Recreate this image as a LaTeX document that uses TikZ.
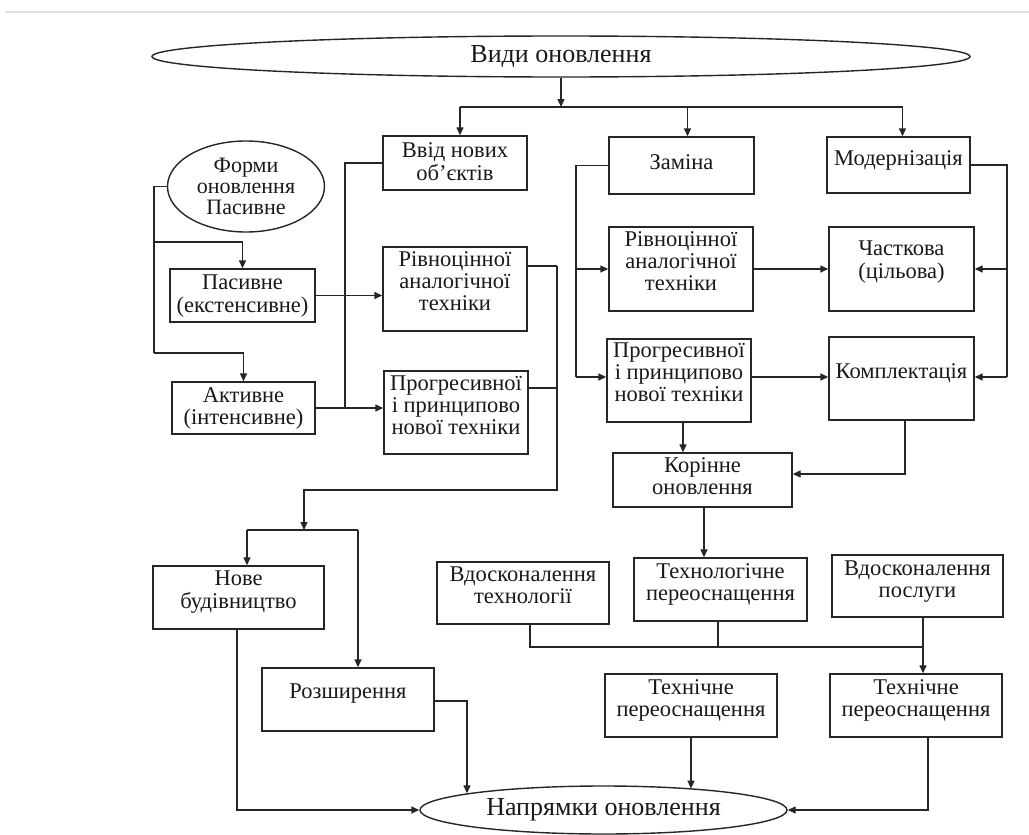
\documentclass[tikz,border=0pt]{standalone}
\usepackage{fontspec}
\setmainfont{Liberation Serif}
\usetikzlibrary{arrows.meta,shapes.geometric}
\newcommand\boxtxt[2][3]{\raisebox{#1pt}[\height][\depth]{\begin{tabular}{@{}c@{}}#2\end{tabular}}}
\begin{document}
\begin{tikzpicture}[x=1pt,y=-1pt,
  ln/.style={line width=1.4pt, draw=black!85},
  arr/.style={ln,-{Triangle[length=8pt,width=7pt]}},
  box/.style={draw=black!85, line width=1.4pt, rectangle, align=center, inner sep=1pt,
    font=\fontsize{22.5}{22}\selectfont, text=black!90},
  oval/.style={draw=black!85, line width=1.4pt, ellipse, inner sep=0pt, align=center, text=black!90},
  big/.style={font=\fontsize{26}{28}\selectfont},
]
\useasboundingbox (0,0) rectangle (1029,835);
\fill[white] (0,0) rectangle (1029,835);
\draw[gray!25, line width=1.5pt] (5,12) -- (1029,12);

% nodes
\node[oval, big, minimum width=818, minimum height=41] (vidy) at (561,56.5) {Види оновлення};
\node[oval, minimum width=157, minimum height=91, font=\fontsize{22}{21}\selectfont] (formy) at (246,186.5) {Форми\\оновлення\\Пасивне};
\node[box, minimum width=144, minimum height=54] (vvid) at (455,163) {\boxtxt[-1.5]{Ввід нових\\об’єктів}};
\node[box, minimum width=145, minimum height=57] (zamina) at (681.5,165.5) {\boxtxt[0]{Заміна}};
\node[box, minimum width=143, minimum height=56] (modern) at (898.5,165) {\boxtxt[3.5]{Модернізація}};
\node[box, minimum width=145, minimum height=53] (pasyv) at (242.5,295.5) {\boxtxt[-1]{Пасивне\\(екстенсивне)}};
\node[box, minimum width=143, minimum height=52] (aktyv) at (243.5,408) {\boxtxt[-1]{Активне\\(інтенсивне)}};
\node[box, minimum width=144, minimum height=84] (rivn1) at (455,289) {\boxtxt[4.5]{Рівноцінної\\аналогічної\\техніки}};
\node[box, minimum width=144, minimum height=83] (progr1) at (456,412.5) {\boxtxt[4]{Прогресивної\\і принципово\\нової техніки}};
\node[box, minimum width=144, minimum height=84] (rivn2) at (681,269) {\boxtxt[4.5]{Рівноцінної\\аналогічної\\техніки}};
\node[box, minimum width=145, minimum height=84] (chastk) at (901.5,269) {\boxtxt[6.5]{Часткова\\(цільова)}};
\node[box, minimum width=144, minimum height=83] (progr2) at (679,380.5) {\boxtxt[5]{Прогресивної\\і принципово\\нової техніки}};
\node[box, minimum width=145, minimum height=83] (kompl) at (901.5,378.5) {\boxtxt[4]{Комплектація}};
\node[box, minimum width=179, minimum height=54] (korin) at (702.5,480) {\boxtxt[0.5]{Корінне\\оновлення}};
\node[box, minimum width=171, minimum height=63] (nove) at (238.5,597.5) {\boxtxt[5]{Нове\\будівництво}};
\node[box, minimum width=172, minimum height=63] (rozsh) at (348,699.5) {\boxtxt[5]{Розширення}};
\node[box, minimum width=172, minimum height=62] (vdtech) at (523,593) {\boxtxt[4.5]{Вдосконалення\\технології}};
\node[box, minimum width=173, minimum height=63] (techpere) at (720.5,589.5) {\boxtxt[4]{Технологічне\\переоснащення}};
\node[box, minimum width=171, minimum height=62] (vdposl) at (917.5,586) {\boxtxt[3.5]{Вдосконалення\\послуги}};
\node[box, minimum width=172, minimum height=63] (techn1) at (691,705.5) {\boxtxt[4]{Технічне\\переоснащення}};
\node[box, minimum width=172, minimum height=63] (techn2) at (916,705.5) {\boxtxt[4]{Технічне\\переоснащення}};
\node[oval, big, minimum width=367, minimum height=48] (napr) at (603.5,810) {Напрямки оновлення};

% top bus
\coordinate (busC) at (561,107);
\draw[arr] (vidy.south) -- (busC);
\draw[ln] ([xshift=5]vvid.north |- busC) -- ([xshift=4]modern.north |- busC);
\draw[arr] ([xshift=5]vvid.north |- busC) -- ([xshift=5]vvid.north);
\draw[arr] ([xshift=6]zamina.north |- busC) -- ([xshift=6]zamina.north);
\draw[arr] ([xshift=4]modern.north |- busC) -- ([xshift=4]modern.north);

% forms
\coordinate (fl) at (154,186.5);
\coordinate (f2) at (154,242);
\coordinate (f3) at (154,353);
\draw[ln] (formy.west) -- (fl) -- (f3);
\draw[arr] (f2) -| (pasyv.north);
\draw[arr] (f3) -| (aktyv.north);
\draw[arr] (pasyv.east) -- (pasyv.east -| rivn1.west);
\draw[arr] (aktyv.east) -- (aktyv.east -| progr1.west);
\coordinate (j1) at (345,408);
\draw[ln] (vvid.west) -| (j1);

% left column to bottom-left
\coordinate (r1) at (557,266);
\coordinate (r2) at (557,388);
\coordinate (r3) at (557,490);
\coordinate (r4) at (304,490);
\coordinate (r5) at (304,530);
\draw[ln] ([yshift=23]rivn1.east) -- (r1);
\draw[ln] ([yshift=24.5]progr1.east) -- (r2);
\draw[arr] (r1) -- (r3) -- (r4) -- (r5);
\coordinate (s1) at (247,530);
\coordinate (s2) at (358,530);
\draw[ln] (s1) -- (s2);
\draw[arr] (s1) -- (s1 |- nove.north);
\draw[arr] (s2) -- (s2 |- rozsh.north);

% replacement column
\coordinate (z1) at (576,165.5);
\coordinate (z2) at (576,377);
\draw[ln] (zamina.west) -- (z1) -- (z2);
\draw[arr] (z1 |- rivn2.west) -- (rivn2.west);
\draw[arr] (z2) -- (z2 -| progr2.west);
\draw[arr] (rivn2.east) -- (chastk.west);
\draw[arr] (z2 -| progr2.east) -- (z2 -| kompl.west);

% modernisation
\coordinate (m1) at (1007,165);
\coordinate (m2) at (1007,377);
\draw[ln] (modern.east) -- (m1) -- (m2);
\draw[arr] (m1 |- chastk.east) -- (chastk.east);
\draw[arr] (m2) -- (m2 -| kompl.east);

% radical renewal
\draw[arr] ([xshift=4]progr2.south) -- ([xshift=4]progr2.south |- korin.north);
\coordinate (k1) at (905,474);
\draw[arr] ([xshift=3.5]kompl.south) -- (k1) -- (k1 -| korin.east);
\draw[arr] ([xshift=1.5]korin.south) -- ([xshift=1.5]korin.south |- techpere.north);

% lower bus
\coordinate (busB) at (923,647);
\draw[ln] ([xshift=7]vdtech.south) -- ([xshift=7]vdtech.south |- busB) -- (busB);
\draw[ln] ([xshift=-2.5]techpere.south) -- ([xshift=-2.5]techpere.south |- busB);
\draw[arr] (busB |- vdposl.south) -- (busB |- techn2.north);

% into directions ellipse
\draw[arr] (techn1.south) -- (techn1.south |- napr.13.5);
\coordinate (q1) at (467,701);
\draw[arr] (rozsh.east |- q1) -- (q1) -- (q1 |- napr.173.3);
\draw[arr] ([xshift=-1.5]nove.south) |- (napr.west);
\draw[arr] ([xshift=12]techn2.south) |- (napr.east);
\end{tikzpicture}
\end{document}
